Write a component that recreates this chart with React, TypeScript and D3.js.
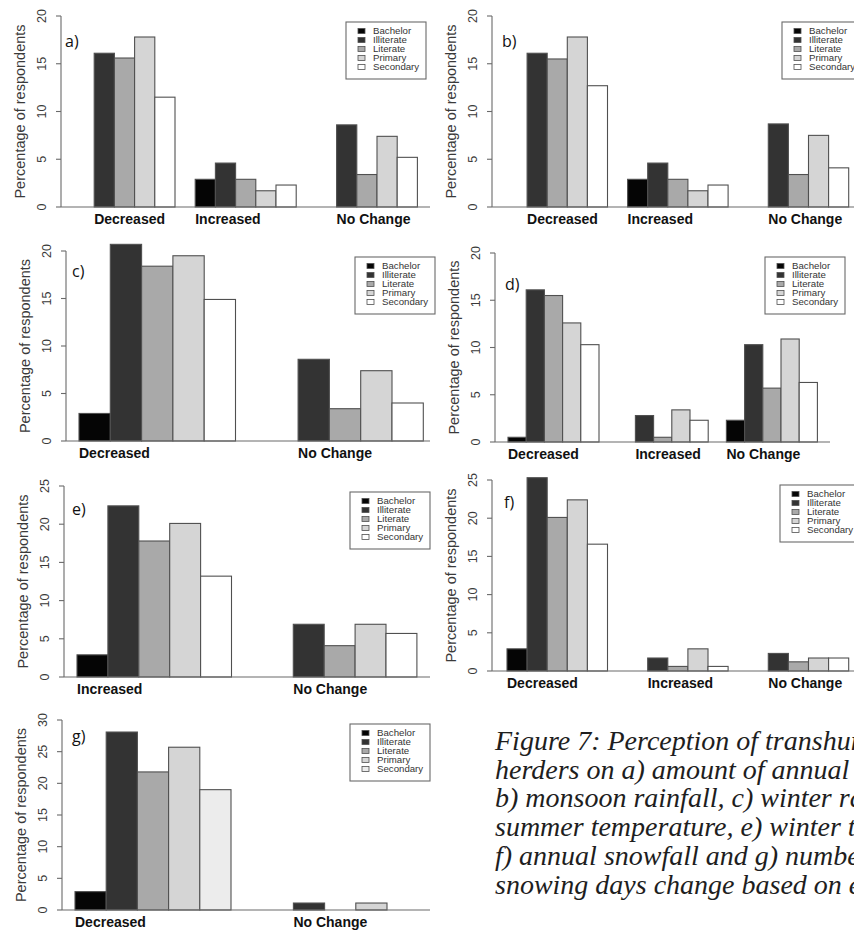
import React from "react";
import * as d3 from "d3";

// education groups, in legend order
const educationLevels = ["Bachelor", "Illiterate", "Literate", "Primary", "Secondary"];

const threeCats = ["Decreased", "Increased", "No Change"];
const decNoChange = ["Decreased", "No Change"];
const incNoChange = ["Increased", "No Change"];

// one row per category, values in educationLevels order (% of respondents)
const annualRainfall = [
  [0, 16.1, 15.6, 17.8, 11.5],
  [2.9, 4.6, 2.9, 1.7, 2.3],
  [0, 8.6, 3.4, 7.4, 5.2],
];
const monsoonRainfall = [
  [0, 16.1, 15.5, 17.8, 12.7],
  [2.9, 4.6, 2.9, 1.7, 2.3],
  [0, 8.7, 3.4, 7.5, 4.1],
];
const winterRainfall = [
  [2.9, 20.7, 18.4, 19.5, 14.9],
  [0, 8.6, 3.4, 7.4, 4.0],
];
const summerTemperature = [
  [0.5, 16.1, 15.5, 12.6, 10.3],
  [0, 2.8, 0.5, 3.4, 2.3],
  [2.3, 10.3, 5.7, 10.9, 6.3],
];
const winterTemperature = [
  [2.9, 22.4, 17.8, 20.1, 13.2],
  [0, 6.9, 4.1, 6.9, 5.7],
];
const annualSnowfall = [
  [2.9, 25.3, 20.1, 22.4, 16.6],
  [0, 1.7, 0.6, 2.9, 0.6],
  [0, 2.3, 1.2, 1.7, 1.7],
];
const snowingDays = [
  [2.9, 28.1, 21.8, 25.7, 19.0],
  [0, 1.1, 0, 1.1, 0],
];

const captionLines = [
  "Figure 7: Perception of transhumant",
  "herders on a) amount of annual rainfall,",
  "b) monsoon rainfall, c) winter rainfall, d)",
  "summer temperature, e) winter temperature,",
  "f) annual snowfall and g) number of",
  "snowing days change based on education",
];

const FILLS = ["#050505", "#333333", "#a9a9a9", "#d5d5d5", "#ffffff"];
const FILLS_G = ["#050505", "#333333", "#a9a9a9", "#d5d5d5", "#ececec"];

const panels = [
  { tag: "a)", cats: threeCats, values: annualRainfall, yMax: 20, fills: FILLS,
    axisX: 61, firstBar: 74, unit: 20.2, y0: 207, yTop: 16, right: 430, legX: 346, legY: 22, tagX: 65, tagY: 47 },
  { tag: "b)", cats: threeCats, values: monsoonRainfall, yMax: 20, fills: FILLS,
    axisX: 492, firstBar: 507, unit: 20.1, y0: 207, yTop: 16, right: 854, legX: 782, legY: 22, tagX: 502, tagY: 47 },
  { tag: "c)", cats: decNoChange, values: winterRainfall, yMax: 20, fills: FILLS,
    axisX: 66, firstBar: 79, unit: 31.3, y0: 441, yTop: 251, right: 430, legX: 355, legY: 257, tagX: 72, tagY: 277 },
  { tag: "d)", cats: threeCats, values: summerTemperature, yMax: 20, fills: FILLS,
    axisX: 495, firstBar: 508, unit: 18.2, y0: 442, yTop: 253, right: 830, legX: 765, legY: 257, tagX: 505, tagY: 290 },
  { tag: "e)", cats: incNoChange, values: winterTemperature, yMax: 25, fills: FILLS,
    axisX: 64, firstBar: 77, unit: 30.9, y0: 677, yTop: 486, right: 430, legX: 350, legY: 492, tagX: 72, tagY: 515 },
  { tag: "f)", cats: threeCats, values: annualSnowfall, yMax: 25, fills: FILLS,
    axisX: 492, firstBar: 507, unit: 20.1, y0: 671, yTop: 480, right: 854, legX: 780, legY: 485, tagX: 504, tagY: 508 },
  { tag: "g)", cats: decNoChange, values: snowingDays, yMax: 30, fills: FILLS_G,
    axisX: 62, firstBar: 75, unit: 31.2, y0: 910, yTop: 720, right: 430, legX: 350, legY: 724, tagX: 72, tagY: 742 },
];

const SANS = "'Liberation Sans', Arial, sans-serif";

const Panel = ({ p }) => {
  // x in "bar units": group g, bar k sits at g * 6 + k (one empty unit between groups)
  const x = d3.scaleLinear().domain([0, 1]).range([p.firstBar, p.firstBar + p.unit]);
  const y = d3.scaleLinear().domain([0, p.yMax]).range([p.y0, p.yTop]);
  const ticks = d3.range(0, p.yMax + 0.01, 5);

  return (
    <g>
      {/* bars */}
      {p.values.map((row, g) =>
        row.map((v, k) =>
          v > 0 ? (
            <rect
              key={`${g}-${k}`}
              x={x(g * 6 + k)}
              y={y(v)}
              width={x(g * 6 + k + 1) - x(g * 6 + k)}
              height={y(0) - y(v)}
              fill={p.fills[k]}
              stroke="#505050"
              strokeWidth={1.1}
            />
          ) : null
        )
      )}

      {/* baseline + y axis */}
      <line x1={p.axisX} x2={p.right} y1={y(0)} y2={y(0)} stroke="#6a6a6a" strokeWidth={1.2} />
      <line x1={p.axisX} x2={p.axisX} y1={y(0)} y2={y(p.yMax)} stroke="#6a6a6a" strokeWidth={1.1} />
      {ticks.map((t) => (
        <g key={t}>
          <line x1={p.axisX - 5} x2={p.axisX} y1={y(t)} y2={y(t)} stroke="#6a6a6a" strokeWidth={1.1} />
          <text
            transform={`translate(${p.axisX - 19},${y(t)}) rotate(-90)`}
            textAnchor="middle"
            dy="0.35em"
            fontSize={12.5}
            fill="#3a3a3a"
            fontFamily={SANS}
          >
            {t}
          </text>
        </g>
      ))}
      <text
        transform={`translate(${p.axisX - 41},${(p.y0 + p.yTop) / 2}) rotate(-90)`}
        textAnchor="middle"
        dy="0.35em"
        fontSize={14.5}
        fill="#3a3a3a"
        fontFamily={SANS}
      >
        Percentage of respondents
      </text>

      {/* category names, left-aligned to first drawn bar of the group */}
      {p.cats.map((c, g) => {
        const first = p.values[g].findIndex((v) => v > 0);
        return (
          <text
            key={c}
            x={x(g * 6 + Math.max(first, 0))}
            y={p.y0 + 17}
            fontSize={14}
            fontWeight="bold"
            fill="#111"
            fontFamily={SANS}
          >
            {c}
          </text>
        );
      })}

      {/* panel tag */}
      <text x={p.tagX} y={p.tagY} fontSize={16} fill="#111" fontFamily="'Open Sans', sans-serif">
        {p.tag}
      </text>

      {/* legend */}
      <rect x={p.legX} y={p.legY} width={80} height={57} fill="#fff" stroke="#6a6a6a" strokeWidth={1.1} />
      {educationLevels.map((name, i) => (
        <g key={name}>
          <rect
            x={p.legX + 12}
            y={p.legY + 9 + i * 9 - 2.5}
            width={7}
            height={5}
            fill={p.fills[i]}
            stroke="#505050"
            strokeWidth={0.8}
          />
          <text
            transform={`translate(${p.legX + 27},${p.legY + 9 + i * 9}) scale(1.15,1)`}
            dy="0.35em"
            fontSize={8.4}
            fill="#333"
            fontFamily={SANS}
          >
            {name}
          </text>
        </g>
      ))}
    </g>
  );
};

export default function App() {
  return (
    <svg
      width={854}
      height={934}
      style={{ position: "absolute", left: 0, top: 0, background: "#fff" }}
    >
      <rect width={854} height={934} fill="#fff" />
      {panels.map((p) => (
        <Panel key={p.tag} p={p} />
      ))}
      {captionLines.map((line, i) => (
        <text
          key={i}
          x={495}
          y={750 + i * 28.7}
          fontSize={28}
          fontStyle="italic"
          fill="#1e1e1e"
          fontFamily="'Liberation Serif', 'Times New Roman', serif"
        >
          {line}
        </text>
      ))}
    </svg>
  );
}
